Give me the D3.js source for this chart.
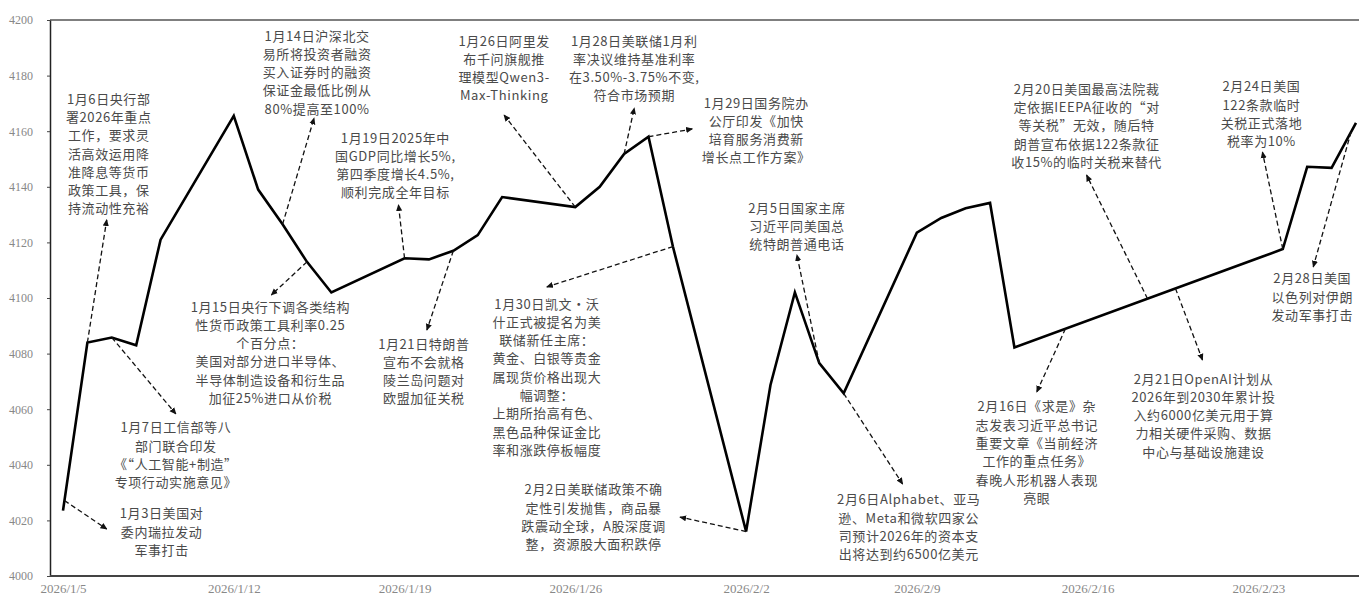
<!DOCTYPE html>
<html>
<head>
<meta charset="utf-8">
<script src="https://cdn.jsdelivr.net/npm/d3@7"></script>
<style>
  body { margin: 0; background: #fff; }
</style>
</head>
<body>
<div id="chart"></div>
<script>
// trading days shown on the chart
const dates = [
  "2026-01-05", "2026-01-06", "2026-01-07", "2026-01-08", "2026-01-09",
  "2026-01-12", "2026-01-13", "2026-01-14", "2026-01-15", "2026-01-16",
  "2026-01-19", "2026-01-20", "2026-01-21", "2026-01-22", "2026-01-23",
  "2026-01-26", "2026-01-27", "2026-01-28", "2026-01-29", "2026-01-30",
  "2026-02-02", "2026-02-03", "2026-02-04", "2026-02-05", "2026-02-06",
  "2026-02-09", "2026-02-10", "2026-02-11", "2026-02-12", "2026-02-13",
  "2026-02-24", "2026-02-25", "2026-02-26", "2026-02-27"
];
const closes = [
  4023.5, 4084, 4085.8, 4083, 4121,
  4165.5, 4139, 4126.5, 4113, 4102,
  4114.3, 4113.9, 4117, 4122.6, 4136.3,
  4132.7, 4140, 4151.8, 4158, 4118.5,
  4016, 4068.7, 4102, 4076.6, 4065.7,
  4123.5, 4128.8, 4132.3, 4134.2, 4082.2,
  4117.6, 4147.2, 4146.8, 4163
];
const xTicks = ["2026-01-05", "2026-01-12", "2026-01-19", "2026-01-26",
                "2026-02-02", "2026-02-09", "2026-02-16", "2026-02-23"];
const yTicks = [4000, 4020, 4040, 4060, 4080, 4100, 4120, 4140, 4160, 4180, 4200];

// event notes (text only)
const notes = [
  "1月3日美国对\n委内瑞拉发动\n军事打击",
  "1月6日央行部\n署2026年重点\n工作，要求灵\n活高效运用降\n准降息等货币\n政策工具，保\n持流动性充裕",
  "1月7日工信部等八\n部门联合印发\n《“人工智能+制造”\n专项行动实施意见》",
  "1月14日沪深北交\n易所将投资者融资\n买入证券时的融资\n保证金最低比例从\n80%提高至100%",
  "1月15日央行下调各类结构\n性货币政策工具利率0.25\n个百分点：\n美国对部分进口半导体、\n半导体制造设备和衍生品\n加征25%进口从价税",
  "1月19日2025年中\n国GDP同比增长5%,\n第四季度增长4.5%,\n顺利完成全年目标",
  "1月21日特朗普\n宣布不会就格\n陵兰岛问题对\n欧盟加征关税",
  "1月26日阿里发\n布千问旗舰推\n理模型Qwen3-\nMax-Thinking",
  "1月28日美联储1月利\n率决议维持基准利率\n在3.50%-3.75%不变,\n符合市场预期",
  "1月29日国务院办\n公厅印发《加快\n培育服务消费新\n增长点工作方案》",
  "1月30日凯文·沃\n什正式被提名为美\n联储新任主席：\n黄金、白银等贵金\n属现货价格出现大\n幅调整：\n上期所抬高有色、\n黑色品种保证金比\n率和涨跌停板幅度",
  "2月2日美联储政策不确\n定性引发抛售，商品暴\n跌震动全球，A股深度调\n整，资源股大面积跌停",
  "2月5日国家主席\n习近平同美国总\n统特朗普通电话",
  "2月6日Alphabet、亚马\n逊、Meta和微软四家公\n司预计2026年的资本支\n出将达到约6500亿美元",
  "2月16日《求是》杂\n志发表习近平总书记\n重要文章《当前经济\n工作的重点任务》\n春晚人形机器人表现\n亮眼",
  "2月20日美国最高法院裁\n定依据IEEPA征收的“对\n等关税”无效，随后特\n朗普宣布依据122条款征\n收15%的临时关税来替代",
  "2月21日OpenAI计划从\n2026年到2030年累计投\n入约6000亿美元用于算\n力相关硬件采购、数据\n中心与基础设施建设",
  "2月24日美国\n122条款临时\n关税正式落地\n税率为10%",
  "2月28日美国\n以色列对伊朗\n发动军事打击"
];

// layout of each note: arrow origin on the line (point index + fraction to next point),
// arrow tip and text anchor in chart units (days after 2026/1/5, index value)
const noteLayout = [
  { i: 0,  t: 0.06, tip: [1.80, 4016.9],  at: [4.06, 4022.7] },
  { i: 1,  t: 0,    tip: [1.80, 4128.1],  at: [1.89, 4171.9] },
  { i: 2,  t: 0,    tip: [4.63, 4058.3],  at: [4.63, 4053.6] },
  { i: 7,  t: 0,    tip: [10.33, 4164.7], at: [10.43, 4194.6] },
  { i: 8,  t: 0,    tip: [8.57, 4101.1],  at: [8.53, 4097.1] },
  { i: 10, t: 0,    tip: [13.78, 4133.5], at: [13.65, 4157.9] },
  { i: 12, t: 0,    tip: [14.92, 4088.5], at: [14.80, 4083.8] },
  { i: 15, t: 0,    tip: [18.12, 4165.8], at: [18.12, 4192.8] },
  { i: 17, t: 0,    tip: [23.45, 4168.3], at: [23.45, 4192.8] },
  { i: 18, t: 0,    tip: [25.83, 4160.8], at: [28.45, 4170.5] },
  { i: 19, t: 0,    tip: [19.84, 4104.0], at: [19.84, 4098.2] },
  { i: 20, t: 0,    tip: [25.30, 4021.2], at: [21.77, 4031.3] },
  { i: 23, t: 0,    tip: [30.09, 4115.5], at: [30.09, 4132.7] },
  { i: 24, t: 0,    tip: [34.44, 4033.1], at: [34.69, 4027.7] },
  { i: 29, t: 0.19, tip: [39.93, 4066.2], at: [39.93, 4061.2] },
  { i: 29, t: 0.496,tip: [41.98, 4144.2], at: [41.98, 4175.5] },
  { i: 29, t: 0.6,  tip: [46.74, 4077.7], at: [46.78, 4071.2] },
  { i: 30, t: 0,    tip: [49.20, 4152.5], at: [49.16, 4176.3] },
  { i: 32, t: 0.8,  tip: [51.25, 4111.2], at: [51.21, 4107.2] }
];

const width = 1359, height = 595;
const lineH = 18.3;
const tickFont = '"Liberation Serif", "DejaVu Serif", serif';
const noteFont = '"Noto Sans CJK SC", "Noto Sans", sans-serif';

const parse = d3.timeParse("%Y-%m-%d");
const fmt = d => `${d.getFullYear()}/${d.getMonth() + 1}/${d.getDate()}`;
const day0 = parse("2026-01-05");
const dayAt = n => d3.timeHour.offset(day0, n * 24);

const x = d3.scaleTime()
  .domain([parse("2026-01-05"), parse("2026-02-23")])
  .range([63, 1258.4]);
const y = d3.scaleLinear()
  .domain([4000, 4200])
  .range([576, 20]);

const data = dates.map((d, i) => ({ date: parse(d), value: closes[i] }));

const svg = d3.select("#chart")
  .append("svg")
    .attr("width", width)
    .attr("height", height);

const defs = svg.append("defs");
defs.append("marker")
    .attr("id", "arrow")
    .attr("viewBox", "0 -4 8 8")
    .attr("refX", 7)
    .attr("refY", 0)
    .attr("markerUnits", "userSpaceOnUse")
    .attr("markerWidth", 7)
    .attr("markerHeight", 7)
    .attr("orient", "auto")
  .append("path")
    .attr("d", "M0,-3.5L8,0L0,3.5Z")
    .attr("fill", "#111");

// top border at 4200
svg.append("line")
    .attr("x1", 50)
    .attr("x2", width)
    .attr("y1", y(4200))
    .attr("y2", y(4200))
    .attr("stroke", "#555")
    .attr("stroke-width", 1.5);

const yAxis = svg.append("g")
    .attr("transform", "translate(50,0)")
    .call(d3.axisLeft(y).tickValues(yTicks).tickFormat(d3.format("d")).tickSize(3).tickSizeOuter(0));
yAxis.select(".domain").attr("stroke", "#222").attr("stroke-width", 1.5);
yAxis.selectAll(".tick line").attr("stroke", "#444");
yAxis.selectAll(".tick text")
    .attr("x", -17)
    .attr("fill", "#888")
    .style("font-family", tickFont)
    .style("font-size", "12px");

const xAxis = svg.append("g")
    .attr("transform", `translate(0,${y(4000)})`)
    .call(d3.axisBottom(x).tickValues(xTicks.map(parse)).tickFormat(fmt).tickSize(0).tickSizeOuter(0));
xAxis.select(".domain")
    .attr("d", `M50,0H${width}`)
    .attr("stroke", "#444")
    .attr("stroke-width", 2);
xAxis.selectAll(".tick text")
    .attr("y", 13)
    .attr("dy", "0.32em")
    .attr("fill", "#888")
    .style("font-family", tickFont)
    .style("font-size", "13px");

const line = d3.line()
  .x(d => x(d.date))
  .y(d => y(d.value));

svg.append("path")
    .datum(data)
    .attr("d", line)
    .attr("fill", "none")
    .attr("stroke", "#000")
    .attr("stroke-width", 2.6)
    .attr("stroke-linejoin", "miter");

// annotations
const notesG = svg.append("g");
noteLayout.forEach((n, k) => {
  const a = data[n.i], b = data[Math.min(n.i + 1, data.length - 1)];
  const sx = x(a.date) + (x(b.date) - x(a.date)) * n.t;
  const sy = y(a.value) + (y(b.value) - y(a.value)) * n.t;
  const ex = x(dayAt(n.tip[0])), ey = y(n.tip[1]);

  notesG.append("line")
      .attr("x1", sx)
      .attr("y1", sy)
      .attr("x2", ex)
      .attr("y2", ey)
      .attr("stroke", "#111")
      .attr("stroke-width", 1.3)
      .attr("stroke-dasharray", "5,3")
      .attr("marker-end", "url(#arrow)");

  const tx = x(dayAt(n.at[0])), ty = y(n.at[1]);
  const t = notesG.append("text")
      .attr("text-anchor", "middle")
      .attr("fill", "#4a4a4a")
      .style("font-family", noteFont)
      .style("font-size", "13px")
      .style("letter-spacing", "0.6px");
  notes[k].split("\n").forEach((s, j) => {
    t.append("tspan")
        .attr("x", tx)
        .attr("y", ty + j * lineH)
        .attr("dominant-baseline", "central")
        .text(s);
  });
});
</script>
</body>
</html>
